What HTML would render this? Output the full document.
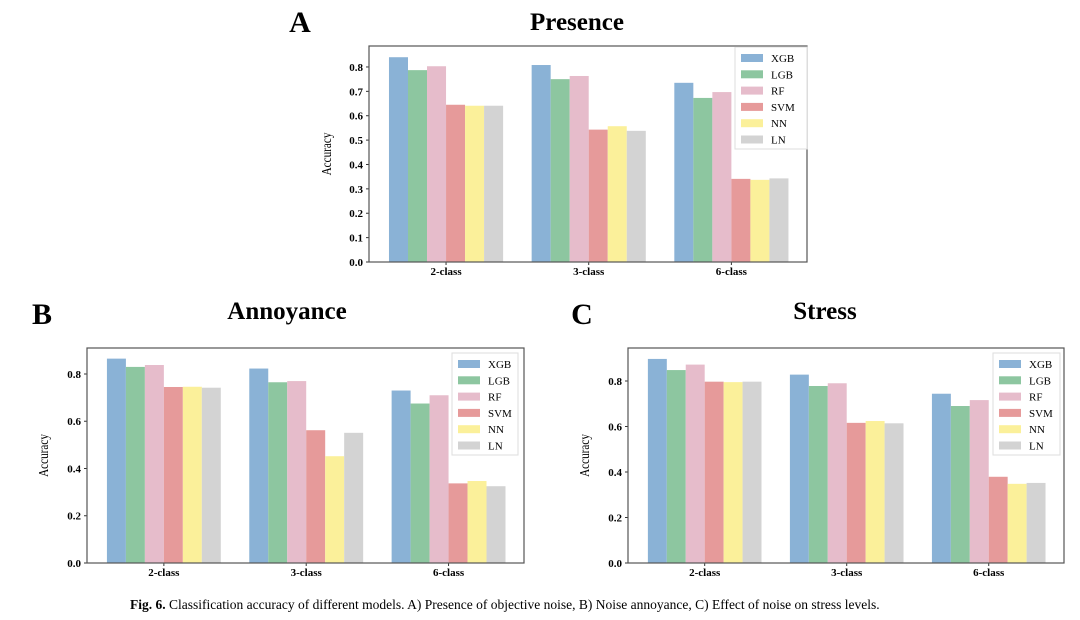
<!DOCTYPE html>
<html><head><meta charset="utf-8"><style>
body{margin:0;background:#fff;}
svg{display:block;font-family:"Liberation Serif",serif;}
</style></head><body>
<svg id="fig" width="1080" height="620" viewBox="0 0 1080 620">
<text x="300" y="32" font-size="30" font-weight="bold" text-anchor="middle">A</text>
<text x="577" y="30" font-size="25" font-weight="bold" text-anchor="middle">Presence</text>
<text x="42" y="324" font-size="30" font-weight="bold" text-anchor="middle">B</text>
<text x="287" y="319" font-size="25" font-weight="bold" text-anchor="middle">Annoyance</text>
<text x="582" y="324" font-size="30" font-weight="bold" text-anchor="middle">C</text>
<text x="825" y="319" font-size="25" font-weight="bold" text-anchor="middle">Stress</text>
<text x="130" y="609" font-size="13.5"><tspan font-weight="bold">Fig. 6.</tspan>  Classification accuracy of different models. A) Presence of objective noise, B) Noise annoyance, C) Effect of noise on stress levels.</text>
</svg>
<script>
const categories = ["2-class","3-class","6-class"];
const models = ["XGB","LGB","RF","SVM","NN","LN"];
const colors = ["#8ab2d6","#8dc6a0","#e6bccb","#e69a9a","#fbf09a","#d3d3d3"];
const presenceValues = [[0.840,0.787,0.803,0.645,0.641,0.641],[0.808,0.750,0.763,0.543,0.557,0.538],[0.735,0.673,0.697,0.341,0.337,0.343]];
const annoyanceValues = [[0.865,0.830,0.838,0.745,0.746,0.742],[0.823,0.765,0.770,0.562,0.452,0.551],[0.730,0.675,0.710,0.337,0.347,0.325]];
const stressValues = [[0.897,0.848,0.872,0.797,0.795,0.797],[0.828,0.778,0.790,0.616,0.624,0.614],[0.744,0.690,0.716,0.379,0.348,0.352]];
const presenceTicks = ["0.0","0.1","0.2","0.3","0.4","0.5","0.6","0.7","0.8"];
const pairTicks = ["0.0","0.2","0.4","0.6","0.8"];

const NS="http://www.w3.org/2000/svg";
const svg=document.getElementById('fig');
function mk(tag,attrs,parent){const e=document.createElementNS(NS,tag);for(const k in attrs)e.setAttribute(k,attrs[k]);(parent||svg).appendChild(e);return e;}

function drawChart(p){
  const g=mk('g',{});
  
  
  const y=v=>p.bottom-(v/p.ymax)*(p.bottom-p.top);
  const x=v=>p.left+(v-p.xmin)/(p.xmax-p.xmin)*(p.right-p.left);
  const bw=0.8/models.length;
  p.values.forEach((grp,ci)=>{
    grp.forEach((v,mi)=>{
      const x0=x(ci-0.4+mi*bw);
      const r=mk('rect',{x:x0,y:y(v),width:x(ci-0.4+(mi+1)*bw)-x0,height:p.bottom-y(v),fill:colors[mi]},g);
      
      
    });
    const t=mk('text',{x:x(ci),y:p.bottom+13,'font-size':11,'font-weight':'bold','text-anchor':'middle'},g);
    t.textContent=categories[ci];
    
    
    mk('line',{x1:x(ci),x2:x(ci),y1:p.bottom,y2:p.bottom+3,stroke:'#333'},g);
  });
  p.ticks.forEach(tk=>{
    const yy=y(parseFloat(tk));
    mk('line',{x1:p.left-3,x2:p.left,y1:yy,y2:yy,stroke:'#333'},g);
    const t=mk('text',{x:p.left-6,y:yy+4,'font-size':11,'font-weight':'bold','text-anchor':'end'},g);
    t.textContent=tk;
    
    
  });
  const fr=mk('rect',{x:p.left,y:p.top,width:p.right-p.left,height:p.bottom-p.top,fill:'none',stroke:'#555','stroke-width':1.2},g);
  
  
  const yt=mk('text',{x:0,y:0,'font-size':14,'text-anchor':'middle',transform:`translate(${p.ytx},${(p.top+p.bottom)/2}) rotate(-90) scale(0.8,1)`},g);
  yt.textContent='Accuracy';
  
  
  const lg=mk('g',{},g);
  
  
  mk('rect',{x:p.lx,y:p.ly,width:p.lw,height:102,fill:'#fff',stroke:'#ddd'},lg);
  models.forEach((m,i)=>{
    const ey=p.ly+10+i*16.3;
    const s=mk('rect',{x:p.lx+6,y:ey-3,width:22,height:8,fill:colors[i]},lg);
    
    
    const t=mk('text',{x:p.lx+36,y:ey+5,'font-size':11},lg);
    t.textContent=m;
    
    
  });
}
drawChart({name:'presence',values:presenceValues,ticks:presenceTicks,ymax:0.886,left:369,right:807,top:46,bottom:262,xmin:-0.54,xmax:2.53,ytx:331,lx:735,ly:47,lw:72});
drawChart({name:'annoyance',values:annoyanceValues,ticks:pairTicks,ymax:0.91,left:87,right:524,top:348,bottom:563,xmin:-0.54,xmax:2.53,ytx:48,lx:452,ly:353,lw:66});
drawChart({name:'stress',values:stressValues,ticks:pairTicks,ymax:0.945,left:628,right:1064,top:348,bottom:563,xmin:-0.54,xmax:2.53,ytx:589,lx:993,ly:353,lw:67});
</script>
</body></html>
